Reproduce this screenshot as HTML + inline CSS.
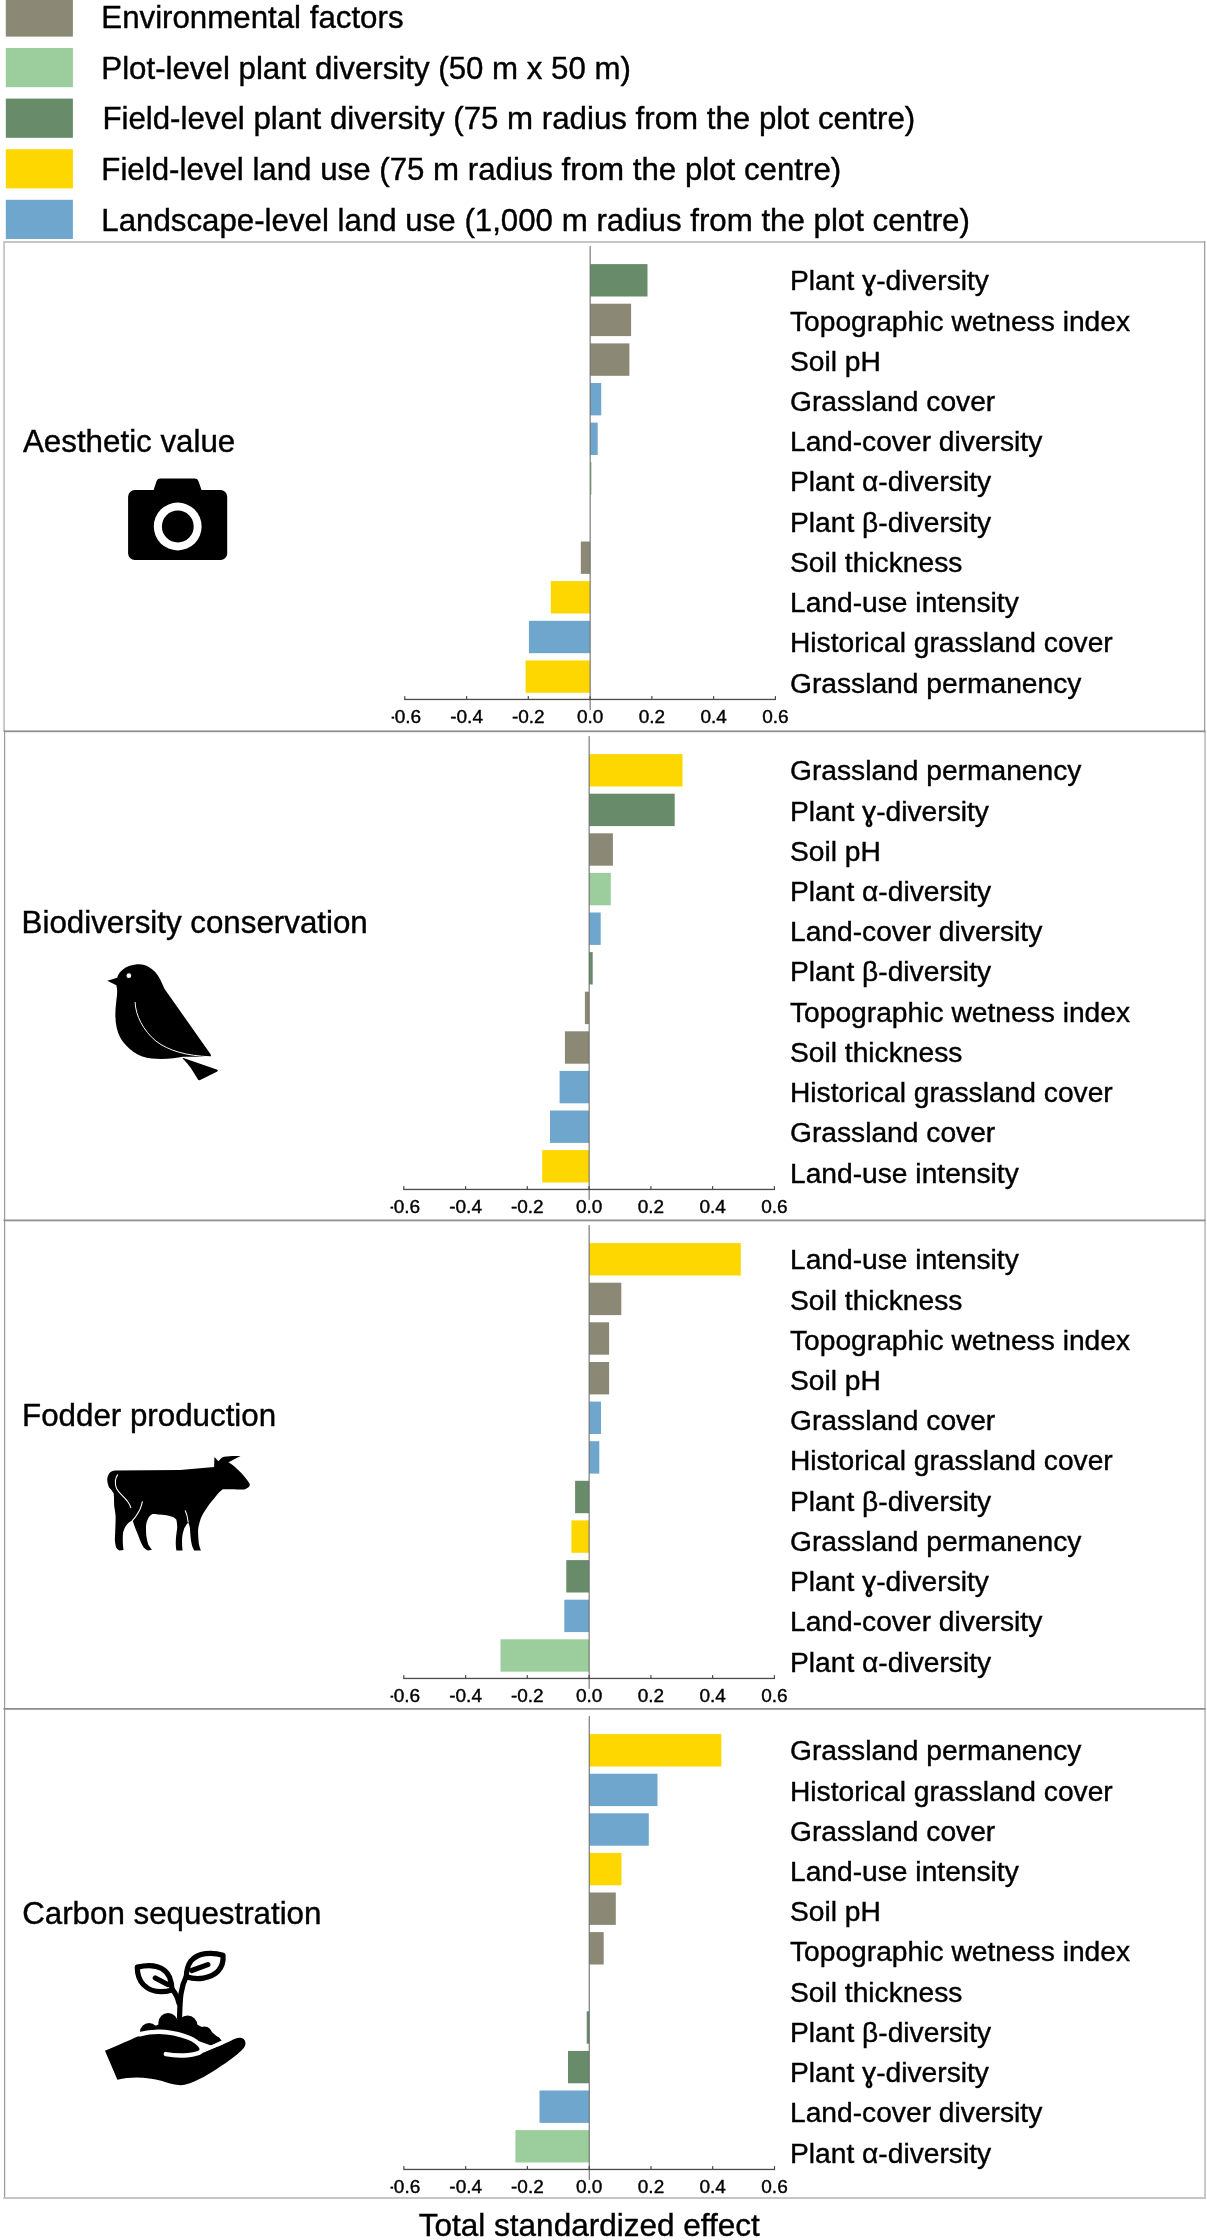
<!DOCTYPE html><html><head><meta charset="utf-8"><title>Total standardized effect</title><style>
html,body{margin:0;padding:0;background:#fff;}body{width:1207px;height:2240px;overflow:hidden;}
svg{display:block;will-change:transform;}text{font-family:"Liberation Sans",sans-serif;fill:#000;stroke:#000;stroke-width:0.4px;}
.lg{font-size:31.25px}.lb{font-size:28.2px}.tk{font-size:19px;text-anchor:middle}.tt{font-size:31.3px}.tx{font-size:31.5px}
</style></head><body>
<svg width="1207" height="2240" viewBox="0 0 1207 2240">
<rect x="5.8" y="-2.6" width="67.1" height="39.2" fill="#8b8975"/>
<text class="lg" x="101.3" y="28.1">Environmental factors</text>
<rect x="5.8" y="48.0" width="67.1" height="39.2" fill="#9ccd9c"/>
<text class="lg" x="101.3" y="78.7">Plot-level plant diversity (50 m x 50 m)</text>
<rect x="5.8" y="98.6" width="67.1" height="39.2" fill="#688c6a"/>
<text class="lg" x="102.4" y="129.3">Field-level plant diversity (75 m radius from the plot centre)</text>
<rect x="5.8" y="149.2" width="67.1" height="39.2" fill="#fed700"/>
<text class="lg" x="101.3" y="179.9">Field-level land use (75 m radius from the plot centre)</text>
<rect x="5.8" y="199.8" width="67.1" height="39.2" fill="#6fa6cd"/>
<text class="lg" x="101.3" y="230.5">Landscape-level land use (1,000 m radius from the plot centre)</text>
<rect x="3.2" y="241" width="1202" height="2" fill="#c6c6c6"/>
<rect x="3.2" y="241" width="1.8" height="490" fill="#c6c6c6"/>
<rect x="1204" y="241" width="1.3" height="490" fill="#a0a0a0"/>
<rect x="4" y="731" width="1.2" height="1468" fill="#9a9a9a"/>
<rect x="1204.1" y="731" width="1.9" height="1468" fill="#c6c6c6"/>
<rect x="3.2" y="2197" width="1202.8" height="2" fill="#c6c6c6"/>
<rect x="3.5" y="730.4" width="1202" height="1.8" fill="#8f8f8f"/>
<rect x="3.5" y="1219.5" width="1202" height="1.8" fill="#8f8f8f"/>
<rect x="3.5" y="1708.0" width="1202" height="1.8" fill="#8f8f8f"/>
<rect x="590.1" y="264.1" width="57.4" height="32.4" fill="#688c6a"/>
<rect x="590.1" y="303.7" width="41.0" height="32.4" fill="#8b8975"/>
<rect x="590.1" y="343.4" width="39.3" height="32.4" fill="#8b8975"/>
<rect x="590.1" y="383.0" width="11.1" height="32.4" fill="#6fa6cd"/>
<rect x="590.1" y="422.6" width="7.6" height="32.4" fill="#6fa6cd"/>
<rect x="590.1" y="462.2" width="1.5" height="32.4" fill="#9ccd9c"/>
<rect x="580.8" y="541.5" width="9.3" height="32.4" fill="#8b8975"/>
<rect x="550.8" y="581.1" width="39.3" height="32.4" fill="#fed700"/>
<rect x="528.9" y="620.8" width="61.2" height="32.4" fill="#6fa6cd"/>
<rect x="525.6" y="660.4" width="64.5" height="32.4" fill="#fed700"/>
<rect x="589.6" y="246.1" width="1.1" height="463.8" fill="#6f6f6f"/>
<rect x="404.2" y="698.8" width="371.8" height="1.3" fill="#4a4a4a"/>
<rect x="404.2" y="696.1" width="1.2" height="3.3" fill="#4a4a4a"/>
<text class="tk" x="404.8" y="723.4">-0.6</text>
<rect x="466.0" y="696.1" width="1.2" height="3.3" fill="#4a4a4a"/>
<text class="tk" x="466.6" y="723.4">-0.4</text>
<rect x="527.7" y="696.1" width="1.2" height="3.3" fill="#4a4a4a"/>
<text class="tk" x="528.3" y="723.4">-0.2</text>
<rect x="589.5" y="696.1" width="1.2" height="3.3" fill="#4a4a4a"/>
<text class="tk" x="590.1" y="723.4">0.0</text>
<rect x="651.3" y="696.1" width="1.2" height="3.3" fill="#4a4a4a"/>
<text class="tk" x="651.9" y="723.4">0.2</text>
<rect x="713.0" y="696.1" width="1.2" height="3.3" fill="#4a4a4a"/>
<text class="tk" x="713.6" y="723.4">0.4</text>
<rect x="774.8" y="696.1" width="1.2" height="3.3" fill="#4a4a4a"/>
<text class="tk" x="775.4" y="723.4">0.6</text>
<text class="lb" x="790" y="290.3">Plant ɣ-diversity</text>
<text class="lb" x="790" y="330.5">Topographic wetness index</text>
<text class="lb" x="790" y="370.7">Soil pH</text>
<text class="lb" x="790" y="411.0">Grassland cover</text>
<text class="lb" x="790" y="451.2">Land-cover diversity</text>
<text class="lb" x="790" y="491.4">Plant α-diversity</text>
<text class="lb" x="790" y="531.6">Plant β-diversity</text>
<text class="lb" x="790" y="571.8">Soil thickness</text>
<text class="lb" x="790" y="612.1">Land-use intensity</text>
<text class="lb" x="790" y="652.3">Historical grassland cover</text>
<text class="lb" x="790" y="692.5">Grassland permanency</text>
<text class="tt" x="23.0" y="451.7">Aesthetic value</text>
<rect x="589.1" y="754.1" width="93.4" height="32.4" fill="#fed700"/>
<rect x="589.1" y="793.7" width="85.6" height="32.4" fill="#688c6a"/>
<rect x="589.1" y="833.3" width="23.8" height="32.4" fill="#8b8975"/>
<rect x="589.1" y="872.9" width="21.7" height="32.4" fill="#9ccd9c"/>
<rect x="589.1" y="912.5" width="11.6" height="32.4" fill="#6fa6cd"/>
<rect x="589.1" y="952.1" width="3.6" height="32.4" fill="#688c6a"/>
<rect x="584.9" y="991.7" width="4.2" height="32.4" fill="#8b8975"/>
<rect x="564.9" y="1031.3" width="24.2" height="32.4" fill="#8b8975"/>
<rect x="559.6" y="1070.9" width="29.5" height="32.4" fill="#6fa6cd"/>
<rect x="550.0" y="1110.5" width="39.1" height="32.4" fill="#6fa6cd"/>
<rect x="542.2" y="1150.1" width="46.9" height="32.4" fill="#fed700"/>
<rect x="588.6" y="736.1" width="1.1" height="463.8" fill="#6f6f6f"/>
<rect x="403.2" y="1188.8" width="371.8" height="1.3" fill="#4a4a4a"/>
<rect x="403.2" y="1186.1" width="1.2" height="3.3" fill="#4a4a4a"/>
<text class="tk" x="403.8" y="1213.4">-0.6</text>
<rect x="465.0" y="1186.1" width="1.2" height="3.3" fill="#4a4a4a"/>
<text class="tk" x="465.6" y="1213.4">-0.4</text>
<rect x="526.7" y="1186.1" width="1.2" height="3.3" fill="#4a4a4a"/>
<text class="tk" x="527.3" y="1213.4">-0.2</text>
<rect x="588.5" y="1186.1" width="1.2" height="3.3" fill="#4a4a4a"/>
<text class="tk" x="589.1" y="1213.4">0.0</text>
<rect x="650.3" y="1186.1" width="1.2" height="3.3" fill="#4a4a4a"/>
<text class="tk" x="650.9" y="1213.4">0.2</text>
<rect x="712.0" y="1186.1" width="1.2" height="3.3" fill="#4a4a4a"/>
<text class="tk" x="712.6" y="1213.4">0.4</text>
<rect x="773.8" y="1186.1" width="1.2" height="3.3" fill="#4a4a4a"/>
<text class="tk" x="774.4" y="1213.4">0.6</text>
<text class="lb" x="790" y="780.3">Grassland permanency</text>
<text class="lb" x="790" y="820.5">Plant ɣ-diversity</text>
<text class="lb" x="790" y="860.7">Soil pH</text>
<text class="lb" x="790" y="901.0">Plant α-diversity</text>
<text class="lb" x="790" y="941.2">Land-cover diversity</text>
<text class="lb" x="790" y="981.4">Plant β-diversity</text>
<text class="lb" x="790" y="1021.6">Topographic wetness index</text>
<text class="lb" x="790" y="1061.8">Soil thickness</text>
<text class="lb" x="790" y="1102.1">Historical grassland cover</text>
<text class="lb" x="790" y="1142.3">Grassland cover</text>
<text class="lb" x="790" y="1182.5">Land-use intensity</text>
<text class="tt" x="21.6" y="932.6">Biodiversity conservation</text>
<rect x="589.1" y="1243.1" width="151.7" height="32.4" fill="#fed700"/>
<rect x="589.1" y="1282.7" width="32.2" height="32.4" fill="#8b8975"/>
<rect x="589.1" y="1322.3" width="20.0" height="32.4" fill="#8b8975"/>
<rect x="589.1" y="1362.0" width="20.0" height="32.4" fill="#8b8975"/>
<rect x="589.1" y="1401.6" width="11.9" height="32.4" fill="#6fa6cd"/>
<rect x="589.1" y="1441.2" width="10.2" height="32.4" fill="#6fa6cd"/>
<rect x="575.1" y="1480.8" width="14.0" height="32.4" fill="#688c6a"/>
<rect x="571.4" y="1520.4" width="17.7" height="32.4" fill="#fed700"/>
<rect x="566.3" y="1560.1" width="22.8" height="32.4" fill="#688c6a"/>
<rect x="564.3" y="1599.7" width="24.8" height="32.4" fill="#6fa6cd"/>
<rect x="500.5" y="1639.3" width="88.6" height="32.4" fill="#9ccd9c"/>
<rect x="588.6" y="1225.1" width="1.1" height="463.8" fill="#6f6f6f"/>
<rect x="403.2" y="1677.8" width="371.8" height="1.3" fill="#4a4a4a"/>
<rect x="403.2" y="1675.1" width="1.2" height="3.3" fill="#4a4a4a"/>
<text class="tk" x="403.8" y="1702.4">-0.6</text>
<rect x="465.0" y="1675.1" width="1.2" height="3.3" fill="#4a4a4a"/>
<text class="tk" x="465.6" y="1702.4">-0.4</text>
<rect x="526.7" y="1675.1" width="1.2" height="3.3" fill="#4a4a4a"/>
<text class="tk" x="527.3" y="1702.4">-0.2</text>
<rect x="588.5" y="1675.1" width="1.2" height="3.3" fill="#4a4a4a"/>
<text class="tk" x="589.1" y="1702.4">0.0</text>
<rect x="650.3" y="1675.1" width="1.2" height="3.3" fill="#4a4a4a"/>
<text class="tk" x="650.9" y="1702.4">0.2</text>
<rect x="712.0" y="1675.1" width="1.2" height="3.3" fill="#4a4a4a"/>
<text class="tk" x="712.6" y="1702.4">0.4</text>
<rect x="773.8" y="1675.1" width="1.2" height="3.3" fill="#4a4a4a"/>
<text class="tk" x="774.4" y="1702.4">0.6</text>
<text class="lb" x="790" y="1269.3">Land-use intensity</text>
<text class="lb" x="790" y="1309.5">Soil thickness</text>
<text class="lb" x="790" y="1349.7">Topographic wetness index</text>
<text class="lb" x="790" y="1390.0">Soil pH</text>
<text class="lb" x="790" y="1430.2">Grassland cover</text>
<text class="lb" x="790" y="1470.4">Historical grassland cover</text>
<text class="lb" x="790" y="1510.6">Plant β-diversity</text>
<text class="lb" x="790" y="1550.8">Grassland permanency</text>
<text class="lb" x="790" y="1591.1">Plant ɣ-diversity</text>
<text class="lb" x="790" y="1631.3">Land-cover diversity</text>
<text class="lb" x="790" y="1671.5">Plant α-diversity</text>
<text class="tt" x="22.1" y="1426.3">Fodder production</text>
<rect x="589.2" y="1734.1" width="132.2" height="32.4" fill="#fed700"/>
<rect x="589.2" y="1773.7" width="68.3" height="32.4" fill="#6fa6cd"/>
<rect x="589.2" y="1813.3" width="59.6" height="32.4" fill="#6fa6cd"/>
<rect x="589.2" y="1852.9" width="32.3" height="32.4" fill="#fed700"/>
<rect x="589.2" y="1892.5" width="26.6" height="32.4" fill="#8b8975"/>
<rect x="589.2" y="1932.1" width="14.5" height="32.4" fill="#8b8975"/>
<rect x="586.7" y="2011.3" width="2.5" height="32.4" fill="#688c6a"/>
<rect x="568.0" y="2050.9" width="21.2" height="32.4" fill="#688c6a"/>
<rect x="539.5" y="2090.5" width="49.7" height="32.4" fill="#6fa6cd"/>
<rect x="515.4" y="2130.1" width="73.8" height="32.4" fill="#9ccd9c"/>
<rect x="588.7" y="1716.1" width="1.1" height="463.8" fill="#6f6f6f"/>
<rect x="403.3" y="2168.8" width="371.8" height="1.3" fill="#4a4a4a"/>
<rect x="403.3" y="2166.1" width="1.2" height="3.3" fill="#4a4a4a"/>
<text class="tk" x="403.9" y="2193.4">-0.6</text>
<rect x="465.1" y="2166.1" width="1.2" height="3.3" fill="#4a4a4a"/>
<text class="tk" x="465.7" y="2193.4">-0.4</text>
<rect x="526.8" y="2166.1" width="1.2" height="3.3" fill="#4a4a4a"/>
<text class="tk" x="527.4" y="2193.4">-0.2</text>
<rect x="588.6" y="2166.1" width="1.2" height="3.3" fill="#4a4a4a"/>
<text class="tk" x="589.2" y="2193.4">0.0</text>
<rect x="650.4" y="2166.1" width="1.2" height="3.3" fill="#4a4a4a"/>
<text class="tk" x="651.0" y="2193.4">0.2</text>
<rect x="712.1" y="2166.1" width="1.2" height="3.3" fill="#4a4a4a"/>
<text class="tk" x="712.7" y="2193.4">0.4</text>
<rect x="773.9" y="2166.1" width="1.2" height="3.3" fill="#4a4a4a"/>
<text class="tk" x="774.5" y="2193.4">0.6</text>
<text class="lb" x="790" y="1760.3">Grassland permanency</text>
<text class="lb" x="790" y="1800.5">Historical grassland cover</text>
<text class="lb" x="790" y="1840.7">Grassland cover</text>
<text class="lb" x="790" y="1881.0">Land-use intensity</text>
<text class="lb" x="790" y="1921.2">Soil pH</text>
<text class="lb" x="790" y="1961.4">Topographic wetness index</text>
<text class="lb" x="790" y="2001.6">Soil thickness</text>
<text class="lb" x="790" y="2041.8">Plant β-diversity</text>
<text class="lb" x="790" y="2082.1">Plant ɣ-diversity</text>
<text class="lb" x="790" y="2122.3">Land-cover diversity</text>
<text class="lb" x="790" y="2162.5">Plant α-diversity</text>
<text class="tt" x="22.2" y="1924.3">Carbon sequestration</text>
<rect x="385" y="708.4" width="6.6" height="17" fill="#fff"/>
<rect x="385" y="1198.4" width="5.5" height="17" fill="#fff"/>
<rect x="385" y="1687.4" width="5.5" height="17" fill="#fff"/>
<rect x="385" y="2178.4" width="5.5" height="17" fill="#fff"/>
<text class="tx" x="418.8" y="2235.6">Total standardized effect</text>
<g id="camera" fill="#000">
<rect x="128.1" y="490" width="99.1" height="70" rx="6.7" ry="6.7"/>
<path d="M153.3 491 L156.6 481 Q157.6 478.6 160.4 478.6 L194.6 478.6 Q197.4 478.6 198.4 481 L201.9 491 Z"/>
<circle cx="177.7" cy="526.5" r="23.9" fill="#fff"/>
<circle cx="177.8" cy="526.5" r="15.9" fill="#000"/>
</g>
<g id="bird" transform="translate(100,955) scale(0.1077)">
<path fill="#000" d="M68 240 L160 212 C170 160 230 95 345 85 C450 80 530 150 575 260 C585 285 592 300 600 315 L1025 920 C1035 935 1030 945 1010 945 L770 945 C700 960 600 972 480 962 C360 950 250 870 190 770 C140 680 135 560 150 440 C158 380 165 330 152 282 Z"/>
<path fill="#000" d="M768 955 L1090 1065 C1098 1070 1095 1078 1085 1083 L930 1160 C918 1165 910 1160 905 1150 C870 1090 825 1015 768 962 Z"/>
<circle cx="268" cy="192" r="22" fill="#fff"/>
<path fill="none" stroke="#fff" stroke-width="9" stroke-linecap="round" d="M326 440 C330 560 400 700 520 800 C640 890 800 935 1020 945"/>
</g>
<g id="cow" transform="translate(100,1450) scale(0.12925)">
<path fill="#000" d="M118 159 L619 154 L883 132 C884 105 884 75 886 55 L916 88 C930 70 945 55 961 52 C1000 45 1050 45 1087 47 C1060 62 1025 80 994 94 C1030 115 1065 149 1095 180 C1126 215 1150 245 1159 265 C1160 280 1150 290 1143 292 C1130 302 1115 306 1104 306 C1070 305 1040 303 1021 303 L950 303 C920 325 900 350 883 375 C850 410 835 435 817 463 C795 495 780 525 773 551 C762 590 758 612 759 634 C760 670 762 700 765 725 C770 750 776 765 781 777 L729 777 C718 760 712 740 707 717 C700 680 698 640 696 606 C693 585 688 570 682 560 C670 575 660 590 652 606 C643 635 636 660 635 689 C634 720 636 750 638 772 L638 777 L591 777 C588 760 586 740 586 717 C587 680 592 640 597 606 C598 580 595 560 591 540 C585 530 575 522 564 518 C545 512 530 508 513 505 C470 500 430 495 405 495 C390 505 378 515 374 528 C362 550 357 570 356 590 C356 620 356 645 359 667 C362 690 367 712 374 733 C385 750 395 765 403 772 L369 777 C355 770 345 762 338 754 C325 735 315 712 308 692 C298 665 288 640 277 615 C268 592 260 568 251 544 C240 550 232 555 226 559 C213 570 203 582 195 595 C184 615 178 635 177 656 C176 680 176 705 177 728 C178 745 180 760 182 774 L149 777 C135 768 126 760 123 749 C118 730 116 712 115 692 C116 660 118 640 118 615 C120 580 121 545 121 513 C118 480 113 455 110 436 C109 410 108 385 108 359 C107 350 106 340 105 333 C98 325 94 318 92 313 C80 300 70 292 67 282 C60 265 56 248 56 231 C56 205 65 190 72 179 C85 165 100 160 118 159 Z"/>
<g fill="none" stroke="#fff" stroke-width="8.5" stroke-linecap="round">
<path d="M136 192 C118 215 112 260 128 297 C140 320 160 340 169 349 C190 370 205 385 215 400 C226 415 234 430 238 446"/>
<path d="M328 400 C322 425 316 445 308 462 C298 480 288 497 277 513 C268 525 258 537 251 546"/>
<path d="M660 470 C670 490 678 520 682 557"/>
</g>
</g>
<g id="plant" transform="translate(100,1945) scale(0.12427)">
<path fill="#000" d="M40 850 L140 1085 C250 1055 380 1060 500 1095 C580 1120 630 1135 680 1125 C780 1100 880 1040 980 970 C1060 915 1120 870 1155 830 C1180 800 1175 760 1140 748 C1110 740 1080 755 1050 772 C990 800 930 825 870 845 L820 855 C800 790 740 740 650 715 C560 695 470 690 400 705 C300 730 200 790 40 850 Z"/>
<g fill="#000"><circle cx="395" cy="702" r="74"/><circle cx="548" cy="627" r="79"/><circle cx="705" cy="647" r="79"/><circle cx="840" cy="717" r="62"/><circle cx="935" cy="775" r="38"/>
<path d="M325 720 L330 700 L470 640 L560 600 L630 598 L700 600 L800 650 L900 700 L985 775 L900 810 L700 740 Z"/></g>
<g fill="none" stroke="#000" stroke-width="42" stroke-linecap="round" stroke-linejoin="round">
<path d="M300 178 C420 150 520 170 560 260 C575 300 580 330 580 362 C500 385 410 380 350 320 C310 280 300 230 300 178 Z"/>
<path d="M990 82 C900 55 790 60 730 130 C705 165 695 210 695 255 C780 285 890 270 950 210 C985 170 995 130 990 82 Z"/>
<path d="M445 265 L545 318"/>
<path d="M738 205 L868 158"/>
<path d="M640 585 C645 470 640 360 695 250"/>
<path d="M636 470 C625 420 605 385 580 355"/>
</g>
<path fill="none" stroke="#fff" stroke-width="36" stroke-linecap="round" d="M318 718 C450 682 600 700 720 748 C800 785 835 830 812 858 C780 885 650 900 530 878"/>
<path fill="none" stroke="#fff" stroke-width="30" stroke-linecap="round" d="M835 850 L985 782"/>
</g>

</svg></body></html>
